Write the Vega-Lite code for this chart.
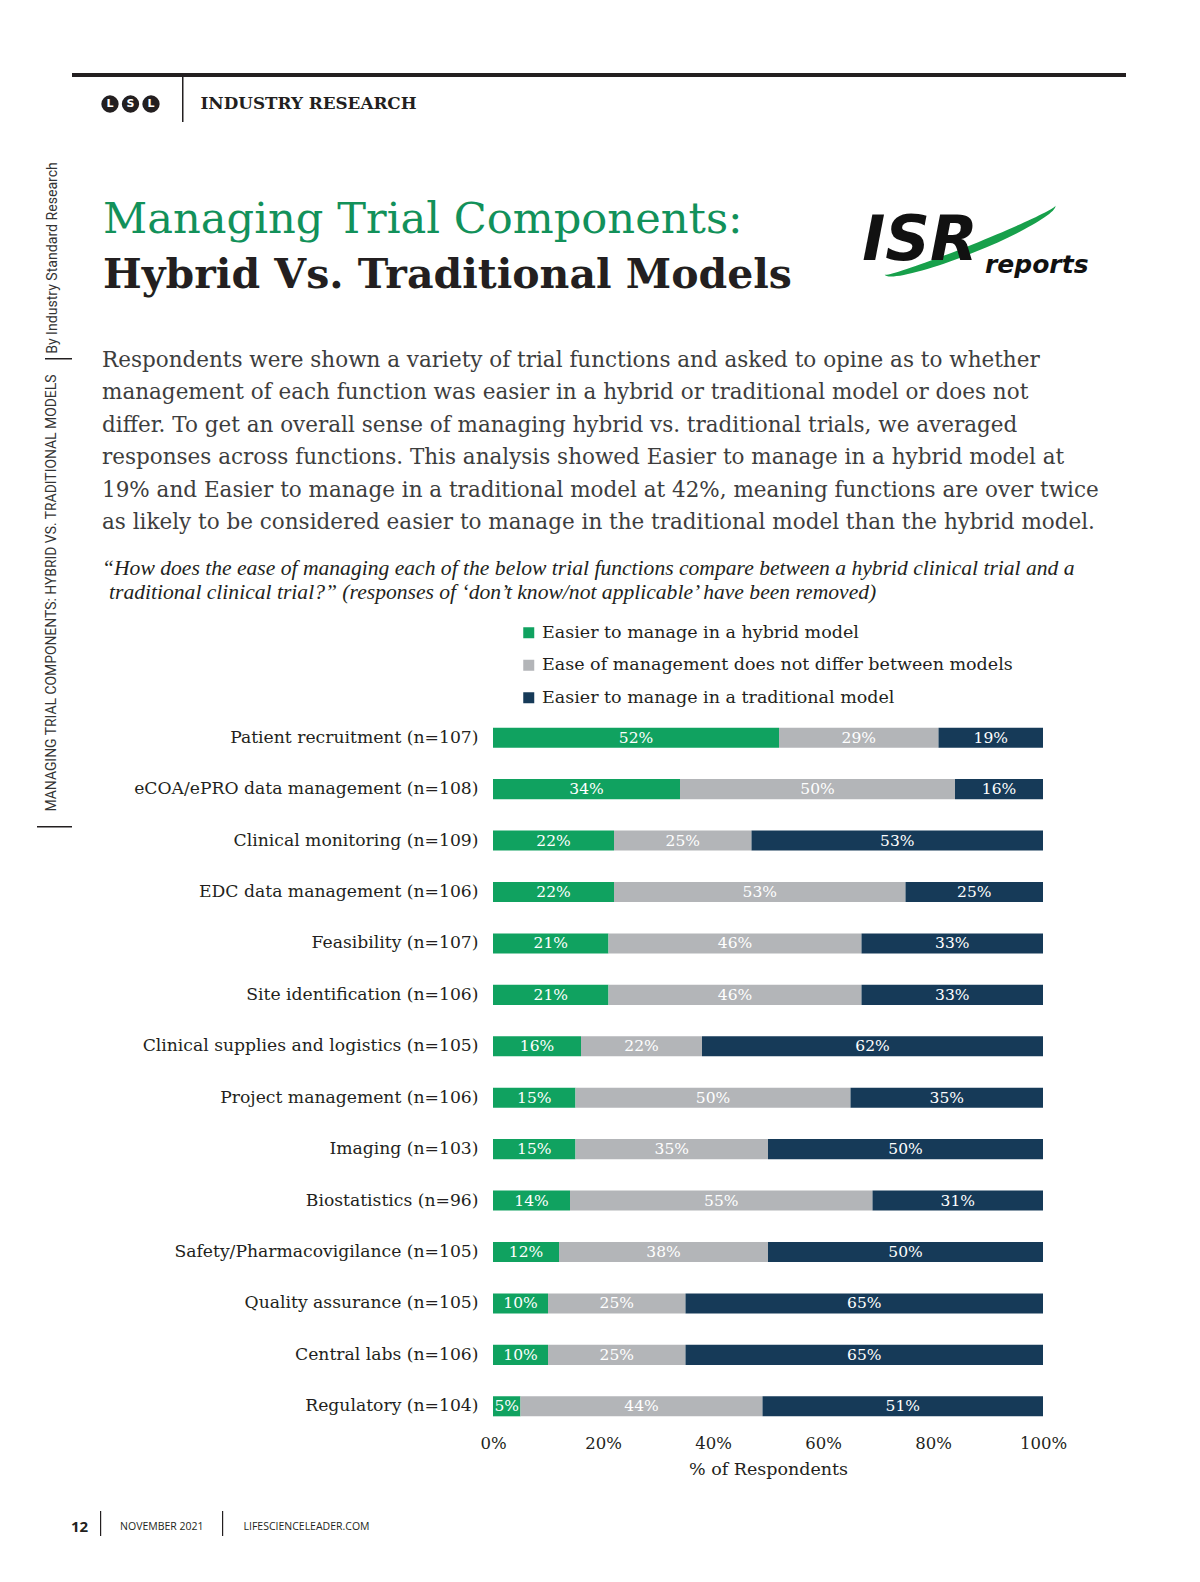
{
  "$schema": "https://vega.github.io/schema/vega-lite/v6.json",
  "background": "white",
  "padding": {"left": 37, "top": 73, "right": 0, "bottom": 0},
  "spacing": 0,
  "bounds": "flush",
  "datasets": {
    "responses": [
      {"key": "hybrid", "response": "Easier to manage in a hybrid model"},
      {"key": "same", "response": "Ease of management does not differ between models"},
      {"key": "traditional", "response": "Easier to manage in a traditional model"}
    ]
  },
  "hconcat": [
    {
      "spacing": 0,
      "bounds": "flush",
      "vconcat": [
        {"width": 35, "height": 85, "data": {"values": []}, "mark": "point"},
        {"width": 31, "height": 200, "data": {"values": [{}]}, "mark": {"type": "text", "text": "By Industry Standard Research", "angle": 270, "align": "center", "baseline": "middle", "font": "Roboto", "fontSize": 14.1, "color": "#333333"}},
        {
          "spacing": 0,
          "bounds": "flush",
          "hconcat": [
            {"width": 8, "height": 1.5, "data": {"values": []}, "mark": "point"},
            {"width": 27, "height": 1.5, "data": {"values": []}, "mark": "point", "view": {"fill": "#231f20", "stroke": null}}
          ]
        },
        {"width": 35, "height": 1.5, "data": {"values": []}, "mark": "point"},
        {"width": 30, "height": 466, "data": {"values": [{}]}, "mark": {"type": "text", "text": "MANAGING TRIAL COMPONENTS: HYBRID VS. TRADITIONAL MODELS", "angle": 270, "align": "center", "baseline": "middle", "font": "Roboto", "fontSize": 13.9, "color": "#333333"}},
        {"width": 35, "height": 1.5, "data": {"values": []}, "mark": "point", "view": {"fill": "#231f20", "stroke": null}}
      ]
    },
    {"width": 35, "height": 1, "data": {"values": []}, "mark": "point"},
    {
      "spacing": 0,
      "bounds": "flush",
      "vconcat": [
        {"width": 1054, "height": 4, "data": {"values": []}, "mark": "point", "view": {"fill": "#231f20", "stroke": null}},
        {
          "spacing": 0,
          "bounds": "flush",
          "hconcat": [
            {
              "width": 110,
              "height": 54,
              "data": {"values": [{"k": "a", "t": "L"}, {"k": "b", "t": "S"}, {"k": "c", "t": "L"}]},
              "encoding": {"x": {"field": "k", "type": "nominal", "scale": {"type": "point", "range": [38, 79], "padding": 0}, "axis": null}},
              "layer": [
                {"mark": {"type": "point", "shape": "circle", "filled": true, "size": 300, "color": "#231f20", "opacity": 1}},
                {"mark": {"type": "text", "color": "white", "font": "DejaVu Sans", "fontWeight": "bold", "fontSize": 11, "baseline": "middle", "align": "center"}, "encoding": {"text": {"field": "t"}}}
              ]
            },
            {"width": 1.5, "height": 45, "data": {"values": []}, "mark": "point", "view": {"fill": "#231f20", "stroke": null}},
            {"width": 33, "height": 54, "data": {"values": [{}]}, "mark": {"type": "text", "text": "INDUSTRY RESEARCH", "align": "left", "baseline": "middle", "font": "DejaVu Serif", "fontWeight": "bold", "fontSize": 16.8, "color": "#231f20"}}
          ]
        },
        {"width": 60, "height": 54, "data": {"values": []}, "mark": "point"},
        {
          "spacing": 784,
          "bounds": "flush",
          "hconcat": [
            {
              "spacing": 0,
              "bounds": "flush",
              "vconcat": [
                {"width": 62, "height": 60, "data": {"values": []}, "mark": "point"},
                {"width": 62, "height": 84, "data": {"values": [{}]}, "mark": {"type": "text", "text": "Managing Trial Components:", "align": "left", "baseline": "alphabetic", "font": "DejaVu Serif", "fontSize": 43.2, "color": "#12915a"}},
                {"width": 62, "height": 26, "data": {"values": [{}]}, "mark": {"type": "text", "text": "Hybrid Vs. Traditional Models", "align": "left", "baseline": "alphabetic", "font": "DejaVu Serif", "fontWeight": "bold", "fontSize": 41, "color": "#231f20"}}
              ]
            },
            {
              "spacing": 0,
              "bounds": "flush",
              "vconcat": [
                {"width": 228, "height": 59, "data": {"values": []}, "mark": "point"},
                {
                  "width": 228,
                  "height": 100,
                  "data": {"values": [{}]},
                  "layer": [
                    {"mark": {"type": "point", "shape": "M -92,0 A 92,13 0 0,0 92,0 A 92,5 0 0,1 -92,0 Z", "size": 4, "angle": -22, "filled": true, "color": "#17a04b", "opacity": 1, "strokeWidth": 0}},
                    {"mark": {"type": "text", "text": "ISR", "align": "center", "baseline": "alphabetic", "dx": -50, "dy": 20, "font": "DejaVu Sans", "fontWeight": "bold", "fontStyle": "italic", "fontSize": 62, "color": "#111111"}},
                    {"mark": {"type": "text", "text": "reports", "align": "left", "baseline": "alphabetic", "dx": 15, "dy": 33, "font": "DejaVu Sans", "fontWeight": "bold", "fontStyle": "italic", "fontSize": 25, "color": "#111111"}}
                  ]
                }
              ]
            }
          ]
        },
        {"width": 60, "height": 170, "data": {"values": []}, "mark": "point"},
        {
          "width": 60,
          "height": 132,
          "data": {"values": [{}]},
          "mark": {
            "type": "text",
            "text": [
              "Respondents were shown a variety of trial functions and asked to opine as to whether",
              "management of each function was easier in a hybrid or traditional model or does not",
              "differ. To get an overall sense of managing hybrid vs. traditional trials, we averaged",
              "responses across functions. This analysis showed Easier to manage in a hybrid model at",
              "19% and Easier to manage in a traditional model at 42%, meaning functions are over twice",
              "as likely to be considered easier to manage in the traditional model than the hybrid model."
            ],
            "align": "left",
            "baseline": "alphabetic",
            "lineHeight": 32.4,
            "font": "DejaVu Serif",
            "fontSize": 21.5,
            "color": "#3d3d3d"
          }
        },
        {"width": 60, "height": 122, "data": {"values": []}, "mark": "point"},
        {
          "width": 60,
          "height": 40,
          "data": {"values": [{}]},
          "mark": {"type": "text", "text": "“How does the ease of managing each of the below trial functions compare between a hybrid clinical trial and a", "align": "left", "baseline": "alphabetic", "font": "Liberation Serif", "fontStyle": "italic", "fontSize": 21.6, "color": "#231f20"}
        },
        {
          "width": 74,
          "height": 8,
          "data": {"values": [{}]},
          "mark": {"type": "text", "text": "traditional clinical trial?” (responses of ‘don’t know/not applicable’ have been removed)", "align": "left", "baseline": "alphabetic", "font": "Liberation Serif", "fontStyle": "italic", "fontSize": 21.6, "color": "#231f20"}
        },
        {"width": 60, "height": 109, "data": {"values": []}, "mark": "point"},
        {
          "spacing": 0,
          "bounds": "flush",
          "resolve": {"scale": {"color": "independent"}, "legend": {"color": "independent"}},
          "hconcat": [
            {"width": 421, "height": 720, "data": {"values": []}, "mark": "point"},
            {
              "width": 550,
              "height": 720,
              "data": {
                "values": [
                  {"item": "Patient recruitment (n=107)", "hybrid": 0.52, "same": 0.29, "traditional": 0.19},
                  {"item": "eCOA/ePRO data management (n=108)", "hybrid": 0.34, "same": 0.50, "traditional": 0.16},
                  {"item": "Clinical monitoring (n=109)", "hybrid": 0.22, "same": 0.25, "traditional": 0.53},
                  {"item": "EDC data management (n=106)", "hybrid": 0.22, "same": 0.53, "traditional": 0.25},
                  {"item": "Feasibility (n=107)", "hybrid": 0.21, "same": 0.46, "traditional": 0.33},
                  {"item": "Site identification (n=106)", "hybrid": 0.21, "same": 0.46, "traditional": 0.33},
                  {"item": "Clinical supplies and logistics (n=105)", "hybrid": 0.16, "same": 0.22, "traditional": 0.62},
                  {"item": "Project management (n=106)", "hybrid": 0.15, "same": 0.50, "traditional": 0.35},
                  {"item": "Imaging (n=103)", "hybrid": 0.15, "same": 0.35, "traditional": 0.50},
                  {"item": "Biostatistics (n=96)", "hybrid": 0.14, "same": 0.55, "traditional": 0.31},
                  {"item": "Safety/Pharmacovigilance (n=105)", "hybrid": 0.12, "same": 0.38, "traditional": 0.50},
                  {"item": "Quality assurance (n=105)", "hybrid": 0.10, "same": 0.25, "traditional": 0.65},
                  {"item": "Central labs (n=106)", "hybrid": 0.10, "same": 0.25, "traditional": 0.65},
                  {"item": "Regulatory (n=104)", "hybrid": 0.05, "same": 0.44, "traditional": 0.51}
                ]
              },
              "transform": [
                {"fold": ["hybrid", "same", "traditional"], "as": ["key", "pct"]},
                {"lookup": "key", "from": {"data": {"name": "responses"}, "key": "key", "fields": ["response"]}}
              ],
              "encoding": {
                "y": {
                  "field": "item",
                  "type": "nominal",
                  "sort": null,
                  "scale": {"paddingInner": 0.61, "paddingOuter": 0.305},
                  "axis": {"title": null, "ticks": false, "domain": false, "labelFont": "DejaVu Serif", "labelFontSize": 17.2, "labelColor": "#231f20", "labelPadding": 15, "labelLimit": 600}
                },
                "x": {
                  "field": "pct",
                  "type": "quantitative",
                  "stack": "zero",
                  "scale": {"domain": [0, 1], "nice": false},
                  "axis": {"values": [0, 0.2, 0.4, 0.6, 0.8, 1], "format": ".0%", "labelFlush": false, "grid": false, "ticks": false, "domain": false, "labelFont": "DejaVu Serif", "labelFontSize": 16.5, "labelColor": "#231f20", "labelPadding": 3, "title": "% of Respondents", "titleFont": "DejaVu Serif", "titleFontSize": 17.5, "titleFontWeight": "normal", "titleColor": "#231f20", "titlePadding": 9}
                },
                "order": {"field": "key", "type": "ordinal"}
              },
              "layer": [
                {
                  "mark": {"type": "bar"},
                  "encoding": {
                    "color": {
                      "field": "response",
                      "type": "nominal",
                      "scale": {
                        "domain": ["Easier to manage in a hybrid model", "Ease of management does not differ between models", "Easier to manage in a traditional model"],
                        "range": ["#10a260", "#b3b5b8", "#163a58"]
                      },
                      "legend": {"orient": "none", "legendX": 27, "legendY": -88, "title": null, "direction": "vertical", "symbolType": "square", "symbolSize": 121, "symbolStrokeWidth": 0, "labelFont": "DejaVu Serif", "labelFontSize": 17.5, "labelColor": "#231f20", "labelLimit": 700, "labelOffset": 4.5, "rowPadding": 13.5, "padding": 0}
                    }
                  }
                },
                {
                  "mark": {"type": "text", "color": "white", "font": "DejaVu Serif", "fontSize": 15.5, "baseline": "middle", "align": "center"},
                  "encoding": {
                    "x": {"field": "pct", "type": "quantitative", "stack": "zero", "bandPosition": 0.5},
                    "detail": {"field": "key"},
                    "text": {"field": "pct", "type": "quantitative", "format": ".0%"}
                  }
                }
              ]
            }
          ]
        },
        {"width": 60, "height": 799, "data": {"values": []}, "mark": "point"},
        {
          "spacing": 0,
          "bounds": "flush",
          "hconcat": [
            {"width": 15, "height": 32, "data": {"values": [{}]}, "mark": {"type": "text", "text": "12", "align": "center", "baseline": "middle", "font": "Open Sans", "fontWeight": "bold", "fontSize": 15, "color": "#231f20"}},
            {"width": 13, "height": 1, "data": {"values": []}, "mark": "point"},
            {"width": 1.2, "height": 25, "data": {"values": []}, "mark": "point", "view": {"fill": "#231f20", "stroke": null}},
            {"width": 119.6, "height": 32, "data": {"values": [{}]}, "mark": {"type": "text", "text": "NOVEMBER 2021", "align": "center", "baseline": "middle", "font": "Open Sans", "fontSize": 10.5, "color": "#231f20"}},
            {"width": 1.2, "height": 25, "data": {"values": []}, "mark": "point", "view": {"fill": "#231f20", "stroke": null}},
            {"width": 165, "height": 32, "data": {"values": [{}]}, "mark": {"type": "text", "text": "LIFESCIENCELEADER.COM", "align": "center", "baseline": "middle", "font": "Open Sans", "fontSize": 10.5, "color": "#231f20"}}
          ]
        }
      ]
    }
  ],
  "config": {
    "view": {"stroke": null},
    "font": "DejaVu Serif",
    "axis": {"grid": false}
  }
}
